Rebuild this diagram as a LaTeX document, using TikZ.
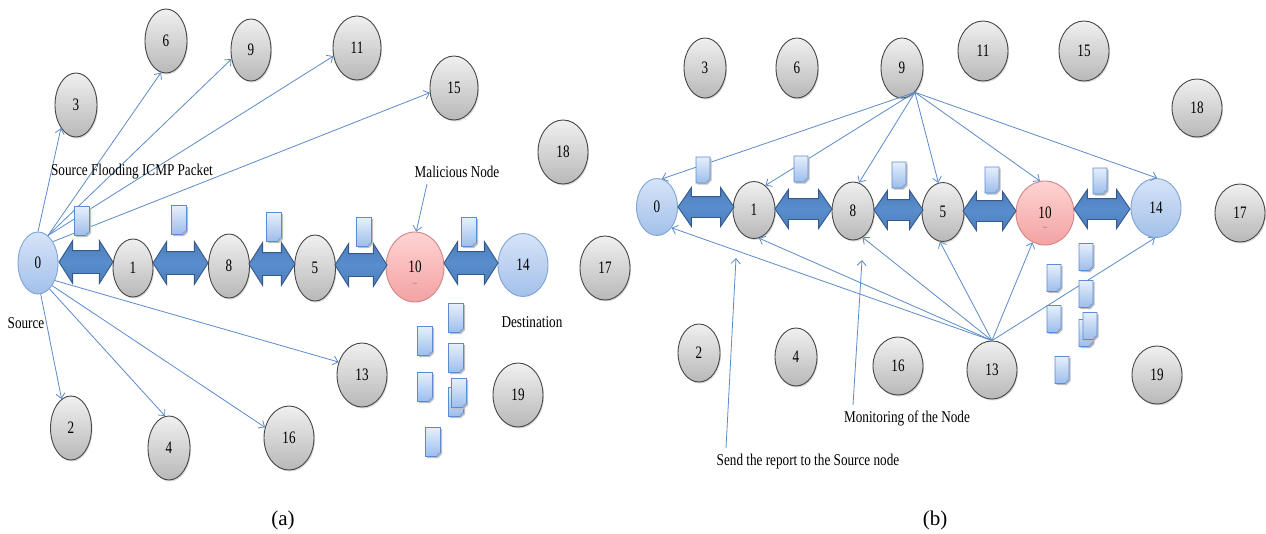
\documentclass[tikz,border=0pt]{standalone}
\usepackage{fontspec}
\setmainfont{Liberation Serif}
\newfontfamily\condfont{Liberation Serif}[FakeStretch=0.8]
\newfontfamily\numfont{Liberation Serif}[FakeStretch=0.75]
\usetikzlibrary{shapes.geometric,shapes.arrows,arrows.meta,shadows,calc}
\definecolor{lnblue}{HTML}{5B8BC9}
\definecolor{arrfill}{HTML}{4A7EBB}
\definecolor{arrmid}{HTML}{5A8DCC}
\definecolor{arrline}{HTML}{35598A}
\definecolor{gtop}{HTML}{F0F0F0}
\definecolor{gbot}{HTML}{B8B8B8}
\definecolor{btop}{HTML}{D6E4F8}
\definecolor{bbot}{HTML}{A3C0EA}
\definecolor{bline}{HTML}{7FA3D4}
\definecolor{ptop}{HTML}{FFD3D3}
\definecolor{pbot}{HTML}{F3A2A2}
\definecolor{pline}{HTML}{D48585}
\definecolor{pkttop}{HTML}{E6EFFB}
\definecolor{pktbot}{HTML}{9DBDEC}
\definecolor{pktline}{HTML}{5B8BD0}
\newcommand\pkt[4]{%
  \begin{scope}[shift={(#1,#2)}]
    \fill[black!25] ({-#3/2+1.5},{-#4/2+1.5}) -- ({#3/2+1.5},{-#4/2+1.5}) -- ({#3/2+1.5},{#4/2-2.5}) -- ({#3/2-2.5},{#4/2+1.5}) -- ({-#3/2+1.5},{#4/2+1.5}) -- cycle;
    \shadedraw[top color=pkttop, bottom color=pktbot, draw=pktline, line width=0.7pt]
      ({-#3/2},{-#4/2}) -- ({#3/2},{-#4/2}) -- ({#3/2},{#4/2-4}) -- ({#3/2-4},{#4/2}) -- ({-#3/2},{#4/2}) -- cycle;
    \fill[pktline!70] ({#3/2},{#4/2-4}) -- ({#3/2-3},{#4/2-3}) -- ({#3/2-4},{#4/2}) -- cycle;
  \end{scope}}
\tikzset{
  base/.style={ellipse, inner sep=0pt, line width=0.9pt, font=\numfont\fontsize{17.5}{17.5}\selectfont},
  sz/.style 2 args={minimum width=#1, minimum height=#2},
  gnode/.style={base, draw=black!72, top color=gtop, bottom color=gbot,
    drop shadow={shadow xshift=1pt, shadow yshift=-1.5pt, opacity=0.3}},
  bnode/.style={base, draw=bline, top color=btop, bottom color=bbot},
  pnode/.style={base, draw=pline, top color=ptop, bottom color=pbot},
  link/.style={draw=lnblue, line width=0.8pt, -{Straight Barb[length=5pt,width=9pt]}},
  darr/.style={double arrow, draw=arrline, top color=arrfill, bottom color=arrfill, middle color=arrmid,
    line width=0.9pt, inner xsep=0pt, inner ysep=11pt,
    double arrow head extend=10pt, double arrow tip angle=115},
  darrb/.style={double arrow, draw=arrline, top color=arrfill, bottom color=arrfill, middle color=arrmid,
    line width=0.9pt, inner xsep=0pt, inner ysep=10pt,
    double arrow head extend=9pt, double arrow tip angle=111},
  txt/.style={font=\condfont\fontsize{16.5}{16.5}\selectfont, inner sep=0pt},
  captxt/.style={font=\fontsize{21}{21}\selectfont, inner sep=0pt},
  dashlbl/.style={font=\fontsize{8}{8}\selectfont, text=black!60, inner sep=0pt}
}
\begin{document}
\begin{tikzpicture}[x=1pt,y=-1pt]
\useasboundingbox (0,0) rectangle (1266,533);
\fill[white] (0,0) rectangle (1266,533);

% ---------------- panel (a) ----------------
\node[bnode, sz={40pt}{62pt}] (l0) at (38,263) {0};
\node[gnode, sz={40pt}{58pt}] (l1) at (133,268) {1};
\node[gnode, sz={41pt}{64pt}] (l8) at (229,266) {8};
\node[gnode, sz={41pt}{66pt}] (l5) at (315,268) {5};
\node[pnode, sz={58pt}{70pt}] (l10) at (415,267) {10};
\node[dashlbl] (l10d) at (415,284) {--};
\node[bnode, sz={50pt}{63pt}] (l14) at (523,265) {14};
\node[gnode, sz={50pt}{64pt}] (l17) at (605,268) {17};
\node[gnode, sz={42pt}{64pt}] (l3) at (76,105) {3};
\node[gnode, sz={42pt}{64pt}] (l6) at (166,41) {6};
\node[gnode, sz={40pt}{62pt}] (l9) at (251,50) {9};
\node[gnode, sz={48pt}{64pt}] (l11) at (357,48) {11};
\node[gnode, sz={48pt}{64pt}] (l15) at (454,88) {15};
\node[gnode, sz={50pt}{64pt}] (l18) at (563,152) {18};
\node[gnode, sz={50pt}{64pt}] (l13) at (362,375) {13};
\node[gnode, sz={41pt}{64pt}] (l2) at (71,428) {2};
\node[gnode, sz={42pt}{64pt}] (l4) at (169,448) {4};
\node[gnode, sz={50pt}{64pt}] (l16) at (289,438) {16};
\node[gnode, sz={50pt}{64pt}] (l19) at (518,395) {19};

\node[darr, minimum height=54pt] (la01) at (86,262) {};
\node[darr, minimum height=55pt] (la18) at (180.5,263) {};
\node[darr, minimum height=46pt] (la85) at (272,264) {};
\node[darr, minimum height=52pt] (la510) at (361,265) {};
\node[darr, minimum height=54pt] (la1014) at (471,263) {};

\draw[link] (l0.90) -- (l3.237);
\draw[link] (l0.70) -- (l6.261);
\draw[link] (l0.70) -- (l9.205);
\draw[link] (l0.70) -- (l11.199);
\draw[link] (l0.55) -- (l15.191);
\draw[link] (l0.-46) -- (l13.151);
\draw[link] (l0.-58) -- (l16.156);
\draw[link] (l0.-66) -- (l4.97);
\draw[link] (l0.-85) -- (l2.108);

\pkt{82}{221}{15}{29}
\pkt{179}{220}{15}{29}
\pkt{274}{227}{15}{29}
\pkt{364}{232}{15}{29}
\pkt{469}{232}{15}{29}
\pkt{425}{341}{15}{29}
\pkt{456}{318}{15}{29}
\pkt{456}{358}{15}{29}
\pkt{425}{387}{15}{29}
\pkt{456}{402}{15}{29}
\pkt{459}{393}{15}{29}
\pkt{433}{442}{15}{29}

\node[txt] (tflood) at (132,172) {Source Flooding ICMP Packet};
\node[txt] (tmal) at (457,172) {Malicious Node};
\coordinate (malstart) at (427,184);
\draw[link] (malstart) -- (l10.88);
\node[txt] (tsrc) at (26,323) {Source};
\node[txt] (tdst) at (532,322) {Destination};
\node[captxt] (capa) at (283,520) {(a)};

% ---------------- panel (b) ----------------
\node[bnode, sz={41pt}{57pt}] (r0) at (657,207) {0};
\node[gnode, sz={42pt}{57pt}] (r1) at (754,210) {1};
\node[gnode, sz={42pt}{58pt}] (r8) at (853,211) {8};
\node[gnode, sz={42pt}{59pt}] (r5) at (943,212) {5};
\node[pnode, sz={58pt}{64pt}] (r10) at (1045,213) {10};
\node[dashlbl] (r10d) at (1045,228) {--};
\node[bnode, sz={50pt}{59pt}] (r14) at (1156,208) {14};
\node[gnode, sz={50pt}{58pt}] (r17) at (1240,213) {17};
\node[gnode, sz={42pt}{60pt}] (r3) at (705,68) {3};
\node[gnode, sz={42pt}{60pt}] (r6) at (797,68) {6};
\node[gnode, sz={42pt}{60pt}] (r9) at (902,68) {9};
\node[gnode, sz={50pt}{60pt}] (r11) at (983,51) {11};
\node[gnode, sz={50pt}{60pt}] (r15) at (1084,51) {15};
\node[gnode, sz={50pt}{58pt}] (r18) at (1197,108) {18};
\node[gnode, sz={42pt}{58pt}] (r2) at (699,353) {2};
\node[gnode, sz={42pt}{58pt}] (r4) at (796,357) {4};
\node[gnode, sz={50pt}{58pt}] (r16) at (898,366) {16};
\node[gnode, sz={50pt}{58pt}] (r13) at (992,370) {13};
\node[gnode, sz={50pt}{58pt}] (r19) at (1157,375) {19};

\node[darrb, minimum height=56pt] (ra01) at (706,207) {};
\node[darrb, minimum height=57pt] (ra18) at (803.5,209) {};
\node[darrb, minimum height=49pt] (ra85) at (898.5,210) {};
\node[darrb, minimum height=53pt] (ra510) at (989.5,211) {};
\node[darrb, minimum height=56pt] (ra1014) at (1102,209) {};

\draw[link] (r9.-62) -- (r0.80);
\draw[link] (r9.-62) -- (r1.65);
\draw[link] (r9.-62) -- (r8.78);
\draw[link] (r9.-62) -- (r5.99);
\draw[link] (r9.-62) -- (r10.99);
\draw[link] (r9.-62) -- (r14.88);

\draw[link] (r13.north) -- (r0.-55);
\draw[link] (r13.north) -- (r1.-80);
\draw[link] (r13.north) -- (r8.-70);
\draw[link] (r13.north) -- (r5.-96);
\draw[link] (r13.north) -- (r10.-113);
\draw[link] (r13.north) -- (r14.-92);

\pkt{703}{170}{14}{26}
\pkt{801}{169}{14}{26}
\pkt{899}{175}{14}{26}
\pkt{992}{180}{14}{26}
\pkt{1100}{181}{14}{26}
\pkt{1054}{278}{14}{27}
\pkt{1086}{257}{14}{27}
\pkt{1086}{294}{14}{27}
\pkt{1054}{319}{14}{27}
\pkt{1086}{333}{14}{27}
\pkt{1090}{326}{14}{27}
\pkt{1062}{370}{14}{27}

\node[txt] (tmon) at (907,418) {Monitoring of the Node};
\node[txt] (tsend) at (808,462) {Send the report to the Source node};
\coordinate (sendstart) at (726,448);
\coordinate (sendend) at (736,258);
\draw[link] (sendstart) -- (sendend);
\coordinate (monstart) at (853,405);
\coordinate (monend) at (862,260);
\draw[link] (monstart) -- (monend);
\node[captxt] (capb) at (935,520) {(b)};
\end{tikzpicture}
\end{document}
